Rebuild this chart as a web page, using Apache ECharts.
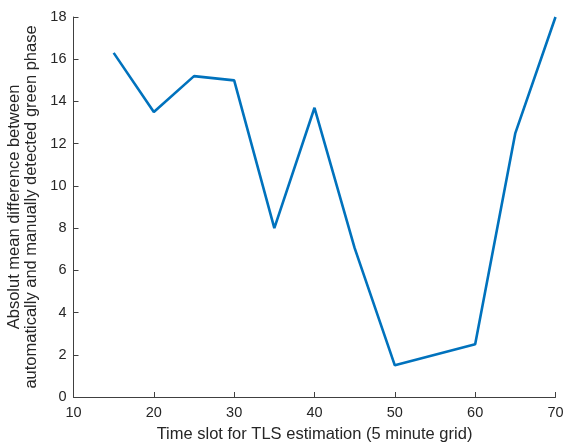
<!DOCTYPE html>
<html><head><meta charset="utf-8">
<script src="https://cdn.jsdelivr.net/npm/echarts@6/dist/echarts.min.js"></script>
<style>html,body{margin:0;padding:0;background:#fff}#c{width:563px;height:444px}</style>
</head><body><div id="c"></div>
<script>
const timeSlots = [15, 20, 25, 30, 35, 40, 45, 50, 60, 65, 70];
const absMeanDiff = [16.3, 13.5, 15.2, 15.0, 8.0, 13.7, 7.05, 1.5, 2.5, 12.5, 18.0];
const xTitle = 'Time slot for TLS estimation (5 minute grid)';
const yTitle = 'Absolut mean difference between\nautomatically and manually detected green phase';

const chart = echarts.init(document.getElementById('c'), null, {renderer: 'canvas'});
const axisCol = '#404040';
const txtCol = '#262626';
const font = 'Liberation Sans, Arial, Helvetica, sans-serif';
chart.setOption({
  animation: false,
  backgroundColor: '#fff',
  grid: {left: 73.5, right: 7.5, top: 17, bottom: 47, containLabel: false, outerBoundsMode: 'none'},
  xAxis: {
    type: 'value', min: 10, max: 70, interval: 10,
    name: xTitle, nameLocation: 'middle', nameGap: 29,
    nameTextStyle: {fontSize: 16.5, color: txtCol, fontFamily: font},
    axisLine: {show: true, onZero: false, lineStyle: {color: axisCol, width: 1}},
    axisTick: {show: true, inside: true, length: 5, lineStyle: {color: axisCol}},
    axisLabel: {fontSize: 14.5, color: txtCol, fontFamily: font, margin: 8},
    splitLine: {show: false}
  },
  yAxis: {
    type: 'value', min: 0, max: 18, interval: 2,
    name: yTitle, nameLocation: 'middle', nameGap: 31, nameRotate: 90,
    nameTextStyle: {fontSize: 16.5, color: txtCol, fontFamily: font, lineHeight: 16.5},
    axisLine: {show: true, lineStyle: {color: axisCol, width: 1}},
    axisTick: {show: true, inside: true, length: 5, lineStyle: {color: axisCol}},
    axisLabel: {fontSize: 14.5, color: txtCol, fontFamily: font, margin: 7},
    splitLine: {show: false}
  },
  series: [{
    type: 'line',
    data: timeSlots.map((x, i) => [x, absMeanDiff[i]]),
    showSymbol: false, symbol: 'none',
    lineStyle: {color: '#0072BD', width: 2.6},
    clip: false
  }]
});
</script></body></html>
